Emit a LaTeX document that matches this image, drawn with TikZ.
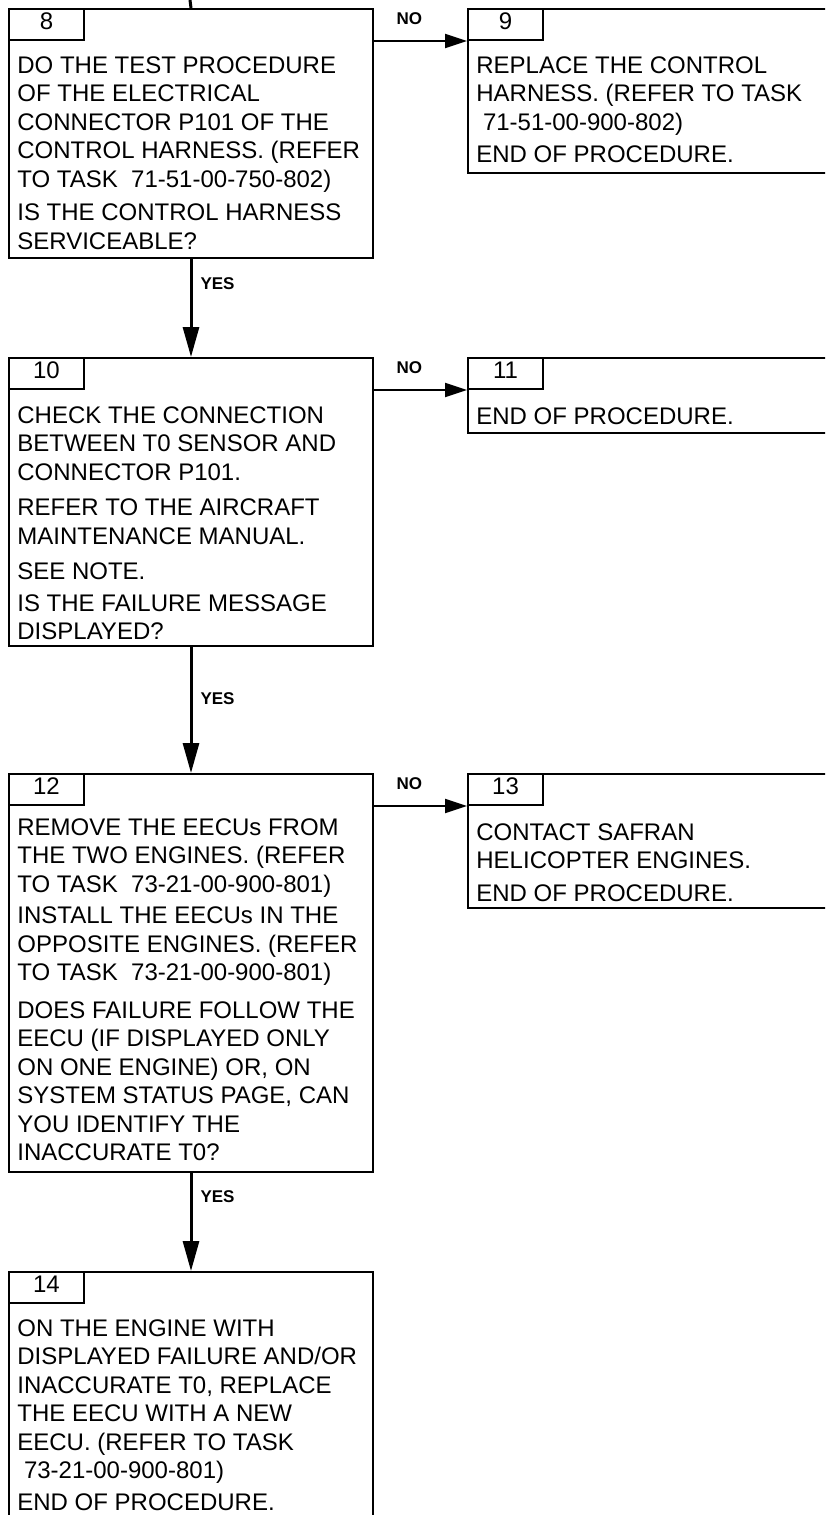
\documentclass[tikz,border=0pt]{standalone}
\usepackage{fontspec}
\setmainfont{Liberation Sans}
\usetikzlibrary{arrows.meta, positioning}
\tikzset{
	stepbox/.style={draw, line width=1pt, rectangle, inner sep=0pt, anchor=north west},
	tabbox/.style={draw, line width=1pt, rectangle, inner sep=0pt, anchor=north west,
		minimum width=37.5pt, minimum height=15.5pt, text height=8.6pt, text depth=4pt,
		font=\fontsize{12}{14.25}\selectfont},
	steptext/.style={align=left, inner sep=0pt, font=\fontsize{12}{14.25}\selectfont},
	answer/.style={inner sep=0pt, font=\bfseries\fontsize{8.5}{10}\selectfont},
	noline/.style={draw, line width=1pt, -{Triangle[length=11pt, width=7pt]}},
	yesline/.style={draw, line width=1.5pt, -{Triangle[length=15pt, width=8pt]}}
}

\begin{document}
\begin{tikzpicture}[x=0.5pt, y=-0.5pt]
	\useasboundingbox (0,0) rectangle (825,1515);
	\clip (0,0) rectangle (825,1515);
	
	% Step boxes
	\node[stepbox, minimum width=182pt, minimum height=124.5pt] (s8) at (8,8) {};
	\node[stepbox, minimum width=200pt, minimum height=82pt] (s9) at (467,8) {};
	\node[stepbox, minimum width=182pt, minimum height=144pt] (s10) at (8,357) {};
	\node[stepbox, minimum width=200pt, minimum height=37.5pt] (s11) at (467,357) {};
	\node[stepbox, minimum width=182pt, minimum height=199pt] (s12) at (8,773) {};
	\node[stepbox, minimum width=200pt, minimum height=67pt] (s13) at (467,773) {};
	\node[stepbox, minimum width=182pt, minimum height=150pt] (s14) at (8,1271) {};
	
	% Step numbers
	\foreach \i in {8,...,14}
	\node[tabbox] (n\i) at (s\i.north west) {\i};
	
	% Step texts
	\node[steptext, below right=24pt and 4.5pt of s8.north west] (t8) {%
		DO THE TEST PROCEDURE\\
		OF THE ELECTRICAL\\
		CONNECTOR P101 OF THE\\
		CONTROL HARNESS. (REFER\\
		TO TASK\ \ 71-51-00-750-802)\\[2.5pt]
		IS THE CONTROL HARNESS\\
		SERVICEABLE?};
	\node[steptext, below right=24pt and 4.5pt of s9.north west] (t9) {%
		REPLACE THE CONTROL\\
		HARNESS. (REFER TO TASK\\
		\hspace*{3.3pt}71-51-00-900-802)\\[2pt]
		END OF PROCEDURE.};
	\node[steptext, below right=24.5pt and 4.5pt of s10.north west] (t10) {%
		CHECK THE CONNECTION\\
		BETWEEN T0 SENSOR AND\\
		CONNECTOR P101.\\[3.5pt]
		REFER TO THE AIRCRAFT\\
		MAINTENANCE MANUAL.\\[3.5pt]
		SEE NOTE.\\[1.5pt]
		IS THE FAILURE MESSAGE\\
		DISPLAYED?};
	\node[steptext, below right=25pt and 4.5pt of s11.north west] (t11) {%
		END OF PROCEDURE.};
	\node[steptext, below right=22.5pt and 4.5pt of s12.north west] (t12) {%
		REMOVE THE EECUs FROM\\
		THE TWO ENGINES. (REFER\\
		TO TASK\ \ 73-21-00-900-801)\\[1.5pt]
		INSTALL THE EECUs IN THE\\
		OPPOSITE ENGINES. (REFER\\
		TO TASK\ \ 73-21-00-900-801)\\[4.5pt]
		DOES FAILURE FOLLOW THE\\
		EECU (IF DISPLAYED ONLY\\
		ON ONE ENGINE) OR, ON\\
		SYSTEM STATUS PAGE, CAN\\
		YOU IDENTIFY THE\\
		INACCURATE T0?};
	\node[steptext, below right=25pt and 4.5pt of s13.north west] (t13) {%
		CONTACT SAFRAN\\
		HELICOPTER ENGINES.\\[2pt]
		END OF PROCEDURE.};
	\node[steptext, below right=24pt and 4.5pt of s14.north west] (t14) {%
		ON THE ENGINE WITH\\
		DISPLAYED FAILURE AND/OR\\
		INACCURATE T0, REPLACE\\
		THE EECU WITH A NEW\\
		EECU. (REFER TO TASK\\
		\hspace*{3.3pt}73-21-00-900-801)\\[1.5pt]
		END OF PROCEDURE.};
	
	% Incoming line
	\coordinate (in) at (190,0);
	\draw[line width=1.5pt] (in) -- (s8.north);
	
	% Connections
	\foreach \a/\b in {8/9,10/11,12/13}
	\draw[noline] (s\a.east |- n\b.south west) -- (n\b.south west)
		node[answer, pos=0.38, above=7.5pt] {NO};
	\foreach \a/\b/\p in {8/10/0.25,10/12/0.41,12/14/0.24}
	\draw[yesline] (s\a.south) -- (s\b.north)
		node[answer, pos=\p, right=4pt] {YES};
\end{tikzpicture}
\end{document}
